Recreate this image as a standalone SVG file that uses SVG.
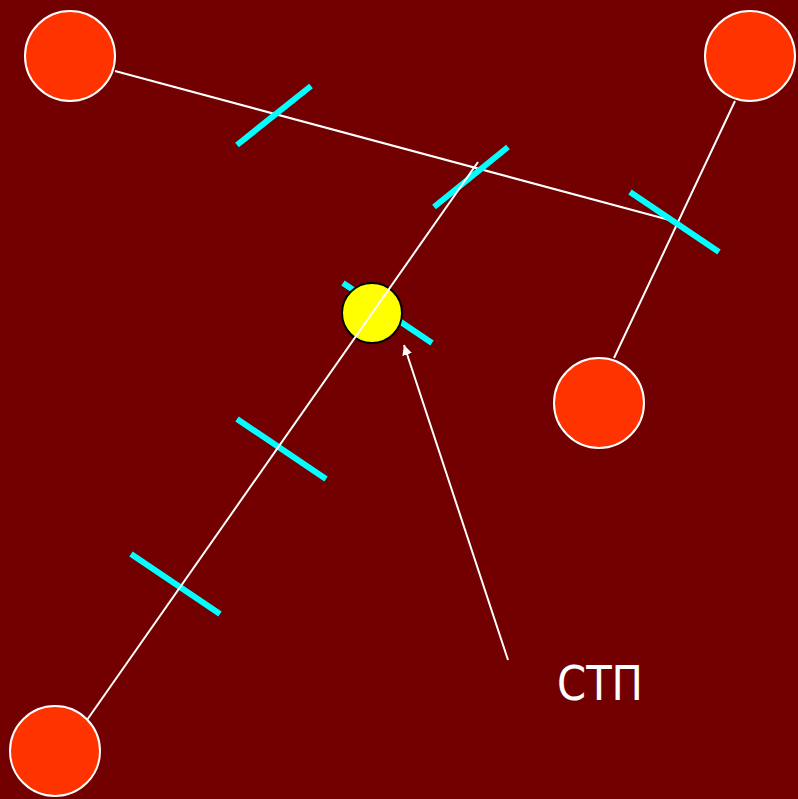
<svg xmlns="http://www.w3.org/2000/svg" width="798" height="799" viewBox="0 0 798 799">
<defs>
<style>
.node{fill:#FF3300;stroke:#FFFFFF;stroke-width:2}
.wire{stroke:#FFFFFF;stroke-width:2;fill:none}
.tick{stroke:#00FFFF;stroke-width:6;fill:none}
.lbl{font-family:"DejaVu Sans","Liberation Sans",sans-serif;font-size:48px;fill:#FFFFFF}
</style>
<marker id="ah" viewBox="0 0 10 10" refX="10" refY="5" markerWidth="5" markerHeight="6" markerUnits="strokeWidth" orient="auto">
<path d="M0,0 L10,5 L0,10 Z" fill="#FFFFFF"/>
</marker>
</defs>
<rect width="798" height="799" fill="#720000"/>
<g id="connectors">
<line class="wire" x1="115" y1="71" x2="677" y2="222"/>
<line class="wire" x1="735" y1="101" x2="614" y2="358"/>
<line class="tick" x1="237" y1="145" x2="311" y2="86"/>
<line class="tick" x1="434" y1="207" x2="508" y2="147"/>
<line class="tick" x1="630" y1="192" x2="719" y2="252"/>
<line class="tick" x1="343" y1="283" x2="432" y2="343"/>
<line class="tick" x1="237" y1="419" x2="326" y2="479"/>
<line class="tick" x1="131" y1="554" x2="220" y2="614"/>
</g>
<g id="stp-node"><circle cx="372" cy="313" r="30" fill="#FFFF00" stroke="#000000" stroke-width="2"/></g>
<g id="connectors-top">
<line class="wire" x1="87" y1="720" x2="478" y2="162"/>
<line class="wire" x1="508" y1="660" x2="404" y2="345" marker-end="url(#ah)"/>
</g>
<g id="n1"><circle class="node" cx="70" cy="56" r="45"/></g>
<g id="n2"><circle class="node" cx="750" cy="56" r="45"/></g>
<g id="n3"><circle class="node" cx="599" cy="403" r="45"/></g>
<g id="n4"><circle class="node" cx="55" cy="751" r="45"/></g>
<g id="label"><text class="lbl" x="557" y="700" textLength="86" lengthAdjust="spacingAndGlyphs">СТП</text></g>
</svg>
